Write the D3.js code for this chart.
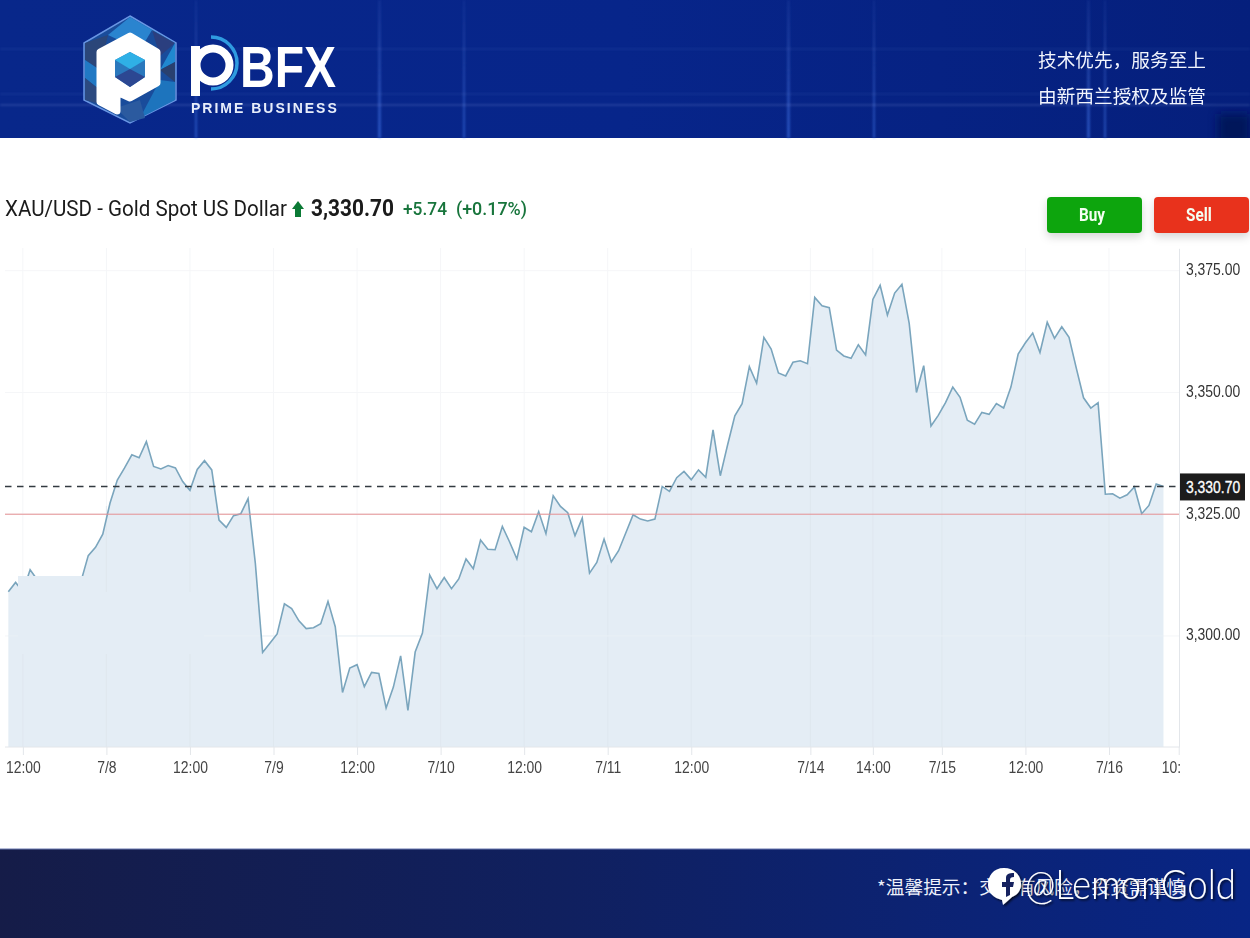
<!DOCTYPE html>
<html>
<head>
<meta charset="utf-8">
<script src="https://cdn.jsdelivr.net/npm/d3@7"></script>
<style>
  html, body { margin: 0; padding: 0; background: #fff; overflow: hidden; }
  svg { display: block; font-family: "Liberation Sans", sans-serif; }
</style>
</head>
<body>
<script>
// hourly closes (23 bars per trading day)
let prices = [
  3309.1,3311.0,3309.1,3313.6,3311.5,3310.1,3309.8,3310.1,3309.5,3309.8,
  3311.2,3316.5,3318.2,3320.9,3327.3,3332.0,3334.5,3337.2,3336.6,3339.9,
  3334.8,3334.3,3335.0,3334.5,3331.7,3329.9,3334.2,3336.0,3334.1,3323.8,
  3322.3,3324.7,3325.1,3328.2,3314.9,3296.6,3298.5,3300.4,3306.6,3305.6,
  3303.1,3301.5,3301.7,3302.5,3307.1,3301.9,3288.4,3293.4,3294.1,3289.6,
  3292.5,3292.3,3285.2,3289.5,3295.9,3284.7,3296.7,3300.6,3312.5,3309.7,
  3312.0,3309.7,3311.7,3315.8,3313.8,3319.7,3317.8,3317.7,3322.5,3319.3,
  3315.8,3322.3,3321.4,3325.5,3321.0,3328.8,3326.6,3325.3,3320.6,3324.2,
  3312.9,3315.1,3319.9,3315.2,3317.5,3321.2,3324.9,3324.0,3323.6,3324.0,
  3330.7,3329.7,3332.5,3333.8,3332.1,3334.1,3332.6,3342.3,3332.9,3339.2,
  3345.2,3347.7,3355.3,3351.9,3361.3,3358.9,3354.0,3353.4,3356.2,3356.5,
  3355.9,3369.5,3367.8,3367.4,3358.7,3357.5,3357.0,3359.8,3357.7,3369.1,
  3372.0,3365.9,3370.4,3372.2,3364.2,3350.0,3355.5,3343.1,3345.3,3347.9,
  3351.1,3349.0,3344.3,3343.5,3345.9,3345.5,3347.7,3346.8,3351.1,3357.9,
  3360.2,3362.2,3358.2,3364.4,3361.1,3363.5,3361.3,3355.0,3348.9,3346.8,
  3347.9,3329.1,3329.2,3328.3,3329.0,3330.6,3325.1,3326.8,3331.2,3330.7
]
let xTicks = [2,13.5,25,36.5,48,59.5,71,82.5,94,110.4,119,128.5,140,151.5,161.1]
let xLabels = ["12:00","7/8","12:00","7/9","12:00","7/10","12:00","7/11","12:00","7/14","14:00","7/15","12:00","7/16","10:00"]
let yTicks = [3300,3325,3350,3375]
let lastPrice = 3330.70
let prevClose = 3325.0
let bannerLines = ["技术优先，服务至上","由新西兰授权及监管"]

let W = 1250, H = 938
let svg = d3.select('body').append('svg').attr('width', W).attr('height', H)
let defs = svg.append('defs')

let x = d3.scaleLinear().domain([0,161]).range([8.33,1178])
let yMin = 3277.2
let y = d3.scaleLinear().domain([yMin,3379.6]).range([747,248.3])

// squeeze text sideways, the screenshot is stretched
function narrow(sel, k) {
  sel.each(function () {
    let len = this.getComputedTextLength()
    d3.select(this).attr('textLength', len * k).attr('lengthAdjust', 'spacingAndGlyphs')
  })
}
function fixed(sel, w) {
  sel.attr('textLength', w).attr('lengthAdjust', 'spacingAndGlyphs')
}

// ---------- header band
let hg = defs.append('linearGradient').attr('id','headBg').attr('x1',0).attr('x2',1).attr('y1',0).attr('y2',0)
hg.append('stop').attr('offset','0%').attr('stop-color','#08278a')
hg.append('stop').attr('offset','50%').attr('stop-color','#07258a')
hg.append('stop').attr('offset','100%').attr('stop-color','#051f7c')
let vg = defs.append('linearGradient').attr('id','beam').attr('x1',0).attr('x2',0).attr('y1',0).attr('y2',1)
vg.append('stop').attr('offset','0%').attr('stop-color','#5f86e0').attr('stop-opacity',0.1)
vg.append('stop').attr('offset','100%').attr('stop-color','#3f74ea').attr('stop-opacity',0.55)
let blur = defs.append('filter').attr('id','soft').attr('x','-50%').attr('y','-50%').attr('width','200%').attr('height','200%')
blur.append('feGaussianBlur').attr('stdDeviation',1.2)
let blurBig = defs.append('filter').attr('id','softer').attr('x','-50%').attr('y','-50%').attr('width','200%').attr('height','200%')
blurBig.append('feGaussianBlur').attr('stdDeviation',5)

let head = svg.append('g')
head.append('rect').attr('width',W).attr('height',138).attr('fill','url(#headBg)')
let beams = head.append('g').attr('filter','url(#soft)')
;[[195,2],[378,3],[463,2],[787,3],[873,2],[1087,3],[1104,2]].forEach(function (b) {
  beams.append('rect').attr('x',b[0]).attr('y',0).attr('width',b[1]).attr('height',138).attr('fill','url(#beam)')
})
;[[48,0.08],[104,0.16],[93,0.08]].forEach(function (b) {
  beams.append('rect').attr('x',0).attr('y',b[0]).attr('width',W).attr('height',2).attr('fill','#9fb8f2').attr('opacity',b[1])
})
let headClip = defs.append('clipPath').attr('id','headClip')
headClip.append('rect').attr('width',W).attr('height',138)
head.append('g').attr('clip-path','url(#headClip)').append('rect').attr('x',1218).attr('y',114).attr('width',32).attr('height',30)
  .attr('fill','#04175a').attr('filter','url(#softer)')

// logo hexagon
let logo = head.append('g')
logo.append('polygon').attr('points','130,16 176,43 176,100 130,123 84,100 84,43').attr('fill','#1b4f9c')
  .attr('stroke','#6f9ce8').attr('stroke-width',1.5).attr('opacity',0.95)
let facets = [
  ['130,17 152,30 140,50 108,35','#2a84cf'],
  ['130,17 175,43 160,47 152,30','#1c8fd8'],
  ['152,30 175,43 160,56','#2b3f7f'],
  ['85,43 108,35 100,70 85,60','#2b4679'],
  ['175,43 175,62 160,70','#2088d0'],
  ['175,62 175,82 160,70','#29406f'],
  ['85,60 100,70 100,90 85,78','#2179c4'],
  ['85,78 100,90 100,104 85,100','#2c4a80'],
  ['160,80 175,82 175,100 140,118','#1d74bd'],
  ['116,108 140,100 145,118 130,122','#2b5a9f']
]
logo.selectAll('polygon.f').data(facets).enter().append('polygon')
  .attr('class','f').attr('points', function (d) { return d[0] }).attr('fill', function (d) { return d[1] })
logo.append('path').attr('d','M130 36 L157 52 L157 83 L130 98 L117 92 L117 111 L100 102 L100 52 Z')
  .attr('fill','#fff').attr('stroke','#fff').attr('stroke-width',7).attr('stroke-linejoin','round')
logo.append('polygon').attr('points','130,52 145,60 145,77 130,87 115,77 115,60').attr('fill','#2a78bd')
logo.append('polygon').attr('points','130,52 145,60 130,69 115,60').attr('fill','#2fb0e6')
logo.append('polygon').attr('points','130,69 145,77 130,87 115,77').attr('fill','#2c4792')

// wordmark
let word = head.append('g')
word.append('path').attr('d','M211 37 A26 26 0 0 1 211 89').attr('fill','none').attr('stroke','#2f9be0').attr('stroke-width',3.5)
word.append('circle').attr('cx',213).attr('cy',65).attr('r',16.5).attr('fill','none').attr('stroke','#fff').attr('stroke-width',8)
word.append('rect').attr('x',191).attr('y',46).attr('width',9).attr('height',50).attr('fill','#fff')
word.append('text').attr('x',240).attr('y',87).attr('font-size',57).attr('font-weight',700).attr('fill','#fff').text('BFX')
  .call(fixed, 96)
word.append('text').attr('x',191).attr('y',113).attr('font-size',14).attr('font-weight',700).attr('letter-spacing',2)
  .attr('fill','#e8eefb').text('PRIME BUSINESS')

head.selectAll('text.banner').data(bannerLines).enter().append('text')
  .attr('class','banner')
  .attr('x',1038)
  .attr('y', function (d,i) { return 67 + i * 36 })
  .attr('font-family','"Noto Sans CJK SC"')
  .attr('font-size',18.5)
  .attr('fill','#f2f5fd')
  .text(function (d) { return d })
  .call(fixed, 168)

// ---------- title row
let titleRow = svg.append('g').attr('font-family','Roboto, "Liberation Sans", sans-serif')
titleRow.append('text').attr('x',5).attr('y',216).attr('font-size',22.5).attr('fill','#1b1b1b')
  .text('XAU/USD - Gold Spot US Dollar').call(fixed, 282)
titleRow.append('path').attr('d','M298 201 L304 209 L301 209 L301 217 L295 217 L295 209 L292 209 Z').attr('fill','#0b7a35')
titleRow.append('text').attr('x',311).attr('y',216).attr('font-size',24).attr('font-weight',700).attr('fill','#1b1b1b')
  .text(d3.format(',.2f')(lastPrice)).call(fixed, 83)
titleRow.append('text').attr('x',403).attr('y',215).attr('font-size',19).attr('font-weight',500).attr('fill','#18753c')
  .text('+5.74').call(fixed, 44)
titleRow.append('text').attr('x',456).attr('y',215).attr('font-size',19).attr('font-weight',500).attr('fill','#18753c')
  .text('(+0.17%)').call(fixed, 71)

// buttons
let shadow = defs.append('filter').attr('id','btnShadow').attr('x','-20%').attr('y','-30%').attr('width','140%').attr('height','170%')
shadow.append('feDropShadow').attr('dx',0).attr('dy',4).attr('stdDeviation',4).attr('flood-color','#000').attr('flood-opacity',0.16)
let buttons = [['Buy',1047,'#0ea50e'],['Sell',1154,'#e8321f']]
buttons.forEach(function (b) {
  svg.append('rect').attr('x',b[1]).attr('y',197).attr('width',95).attr('height',36).attr('rx',4)
    .attr('fill',b[2]).attr('filter','url(#btnShadow)')
  svg.append('text').attr('x',b[1]+45).attr('y',221).attr('text-anchor','middle')
    .attr('font-family','Roboto, sans-serif').attr('font-size',18).attr('font-weight',700).attr('fill','#f4fff2')
    .text(b[0]).call(narrow, 0.85)
})

// ---------- plot
let gridColor = '#f5f6f8'
let fillColor = '#e4edf5'
let plot = svg.append('g')
plot.append('g').selectAll('line').data(xTicks.slice(0,-1)).enter().append('line')
  .attr('x1', function (d) { return x(d) }).attr('x2', function (d) { return x(d) })
  .attr('y1',248).attr('y2',747).attr('stroke',gridColor)
plot.append('g').selectAll('line').data(yTicks).enter().append('line')
  .attr('x1',5).attr('x2',1179)
  .attr('y1', function (d) { return y(d) }).attr('y2', function (d) { return y(d) }).attr('stroke',gridColor)

let area = d3.area().x(function (d,i) { return x(i) }).y0(y(yMin)).y1(function (d) { return y(d) })
let line = d3.line().x(function (d,i) { return x(i) }).y(function (d) { return y(d) })
plot.append('path').datum(prices).attr('d',area).attr('fill',fillColor)
// grid lines show faintly through the fill
plot.append('g').selectAll('line').data(xTicks.slice(0,-1)).enter().append('line')
  .attr('x1', function (d) { return x(d) }).attr('x2', function (d) { return x(d) })
  .attr('y1', function (d) { return y(Math.min(3379, prices[Math.round(d)])) + 3 }).attr('y2',747)
  .attr('stroke','#dde6ee').attr('stroke-opacity',0.8)
plot.append('line').attr('x1',x(0)).attr('x2',x(159)).attr('y1',y(3300)).attr('y2',y(3300)).attr('stroke','#eaf0f6')
plot.append('path').datum(prices).attr('d',line).attr('fill','none').attr('stroke','#7aa5bd').attr('stroke-width',1.6)

// flat patch in the screenshot that hides the line near the left edge
plot.append('rect').attr('x',18).attr('y',576).attr('width',66).attr('height',78).attr('fill',fillColor)
plot.append('rect').attr('x',84).attr('y',592).attr('width',120).attr('height',62).attr('fill',fillColor)

plot.append('line').attr('x1',5).attr('x2',1179).attr('y1',y(prevClose)).attr('y2',y(prevClose))
  .attr('stroke','#e58f93').attr('stroke-width',1)
plot.append('line').attr('x1',5).attr('x2',1179).attr('y1',y(lastPrice)).attr('y2',y(lastPrice))
  .attr('stroke','#333a40').attr('stroke-width',1.5).attr('stroke-dasharray','6.5 5.5')

// axes
let clip = defs.append('clipPath').attr('id','xClip')
clip.append('rect').attr('x',0).attr('y',-10).attr('width',1179.5).attr('height',50)

let xAxis = d3.axisBottom(x).tickValues(xTicks).tickSize(8).tickPadding(7)
  .tickFormat(function (d,i) { return xLabels[i] })
let gx = svg.append('g').attr('transform','translate(0,747)').attr('clip-path','url(#xClip)').call(xAxis)
gx.select('.domain').attr('stroke','#e3e6ea').attr('d','M5,0H1179')
gx.selectAll('line').attr('stroke','#e3e6ea')
gx.selectAll('text').attr('font-size',16).attr('font-family','"Liberation Sans"').attr('fill','#444').call(narrow, 0.87)

let yAxis = d3.axisRight(y).tickValues(yTicks).tickSize(0).tickPadding(7).tickFormat(d3.format(',.2f'))
let gy = svg.append('g').attr('transform','translate(1179,0)').call(yAxis)
gy.select('.domain').attr('stroke','#e3e6ea')
gy.selectAll('text').attr('font-size',16).attr('font-family','"Liberation Sans"').attr('fill','#333')
  .attr('dy','0.25em').call(narrow, 0.87)

// last price tag
svg.append('rect').attr('x',1180).attr('y',y(lastPrice)-13).attr('width',65).attr('height',27).attr('fill','#1c1c1c')
svg.append('text').attr('x',1186).attr('y',y(lastPrice)+6.5).attr('font-size',16).attr('fill','#fff')
  .attr('stroke','#fff').attr('stroke-width',0.3)
  .text(d3.format(',.2f')(lastPrice)).call(narrow, 0.87)

// ---------- footer
let fg = defs.append('linearGradient').attr('id','footBg').attr('x1',0).attr('x2',1).attr('y1',0).attr('y2',0)
fg.append('stop').attr('offset','0%').attr('stop-color','#151c48')
fg.append('stop').attr('offset','45%').attr('stop-color','#10205f')
fg.append('stop').attr('offset','100%').attr('stop-color','#082585')
svg.append('rect').attr('y',849).attr('width',W).attr('height',89).attr('fill','url(#footBg)')
svg.append('rect').attr('y',848.5).attr('width',W).attr('height',1).attr('fill','#6a78b0')
svg.append('text').attr('x',877).attr('y',894).attr('font-family','"Noto Sans CJK SC"').attr('font-size',18)
  .attr('fill','#eef1fb').text('*温馨提示：交易有风险，投资需谨慎').call(fixed, 308)

// watermark
let wmShadow = defs.append('filter').attr('id','wm').attr('x','-10%').attr('y','-20%').attr('width','120%').attr('height','140%')
wmShadow.append('feDropShadow').attr('dx',1.5).attr('dy',1.5).attr('stdDeviation',0.8).attr('flood-color','#000').attr('flood-opacity',0.75)
let wm = svg.append('g').attr('filter','url(#wm)')
wm.append('path').attr('d','M1004 868 C993 868 988 876 988 885 C988 893 994 898 1002 900 L1003 905 L1012 897 C1019 894 1021 889 1021 884 C1021 875 1014 868 1004 868 Z').attr('fill','#fff')
wm.append('path').attr('d','M1006 897 L1006 887 L1002 887 L1002 882 L1006 882 L1006 878 C1006 874 1009 873 1014 873 L1014 877 C1011 877 1010 878 1010 880 L1010 882 L1014 882 L1013 887 L1010 887 L1010 895 Z').attr('fill','#12235f')
wm.append('text').attr('x',1025).attr('y',899).attr('font-family','Lato, sans-serif').attr('font-weight',300).attr('font-size',42)
  .attr('fill','#fff').text('@LemonGold').call(fixed, 211)
</script>
</body>
</html>
